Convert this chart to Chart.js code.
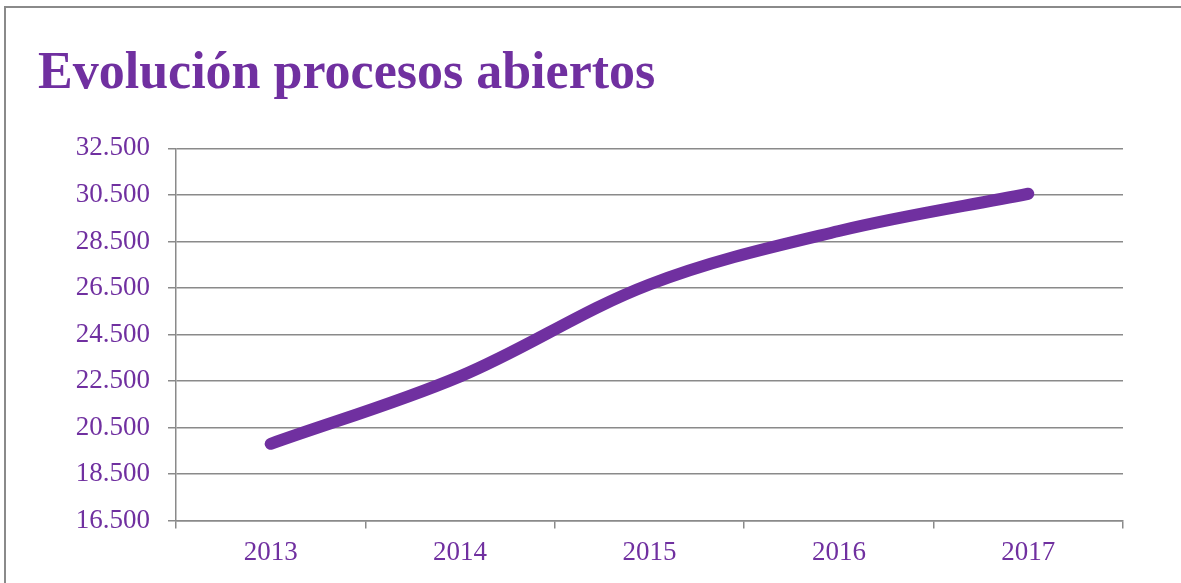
<!DOCTYPE html>
<html>
<head>
<meta charset="utf-8">
<script src="https://cdn.jsdelivr.net/npm/chart.js@4"></script>
<style>
  html, body { margin: 0; padding: 0; background: #fff; }
  #wrap { position: relative; width: 1181px; height: 583px; }
  #frame {
    position: absolute; left: 4px; top: 6px; right: 0; bottom: 0;
    border-top: 2px solid #8a8a8a; border-left: 2px solid #8a8a8a;
  }
  #chart { position: absolute; left: 0; top: 0; }
</style>
</head>
<body>
<div id="wrap">
  <div id="frame"></div>
  <canvas id="chart" width="1181" height="583"></canvas>
</div>
<script>
// datos del gráfico
const anios = ["2013", "2014", "2015", "2016", "2017"];
const procesosAbiertos = [19800, 22700, 26650, 28950, 30550];
const ejeMin = 16500;
const ejeMax = 32500;
const ejePaso = 2000;

const morado = "#7030A0";
const gris = "#8a8a8a";
const fuente = "'Liberation Serif', 'Times New Roman', serif";

// 32500 -> "32.500"
function formatoMiles(v) {
  return String(v).replace(/\B(?=(\d{3})+(?!\d))/g, ".");
}

const ctx = document.getElementById("chart").getContext("2d");

new Chart(ctx, {
  type: "line",
  data: {
    labels: anios,
    datasets: [
      {
        label: "Procesos abiertos",
        data: procesosAbiertos,
        borderColor: morado,
        backgroundColor: morado,
        borderWidth: 12,
        borderCapStyle: "round",
        borderJoinStyle: "round",
        pointRadius: 0,
        tension: 0.35,
        fill: false,
        clip: false,
      },
    ],
  },
  options: {
    responsive: false,
    animation: false,
    layout: { padding: { left: 38, right: 58, top: 0, bottom: 6 } },
    plugins: {
      legend: { display: false },
      tooltip: { enabled: false },
      title: {
        display: true,
        text: "Evolución procesos abiertos",
        align: "start",
        color: morado,
        font: { family: fuente, size: 52, weight: "bold" },
        padding: { top: 43, bottom: 43 },
      },
    },
    scales: {
      x: {
        offset: true,
        grid: {
          drawOnChartArea: false,
          drawTicks: true,
          tickLength: 8,
          offset: true,
          color: gris,
          lineWidth: 1.5,
        },
        border: { display: true, color: gris, width: 1.5 },
        ticks: {
          color: morado,
          font: { family: fuente, size: 27 },
          padding: 8,
        },
      },
      y: {
        min: ejeMin,
        max: ejeMax,
        afterFit: (scale) => {
          scale.width = 138;
        },
        grid: {
          color: gris,
          lineWidth: 1.5,
          tickLength: 8,
        },
        border: { display: true, color: gris, width: 1.5 },
        ticks: {
          stepSize: ejePaso,
          color: morado,
          font: { family: fuente, size: 27 },
          padding: 18,
          callback: (v) => formatoMiles(v),
        },
      },
    },
  },
});
</script>
</body>
</html>
